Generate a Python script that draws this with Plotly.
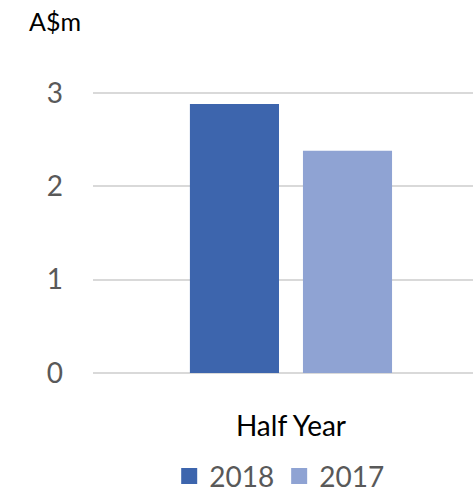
import plotly.graph_objects as go

categories = ["Half Year"]
series_names = ["2018", "2017"]
values_2018 = [2.88]
values_2017 = [2.38]
colors = ["#3D65AD", "#8FA3D3"]
y_ticks = [0, 1, 2, 3]

fig = go.Figure()
for name, vals, col in zip(series_names, [values_2018, values_2017], colors):
    fig.add_trace(go.Bar(x=categories, y=vals, name=name, marker_color=col,
                         marker_line_width=0, showlegend=False, legendgroup=name))
for name, col in zip(series_names, colors):
    fig.add_trace(go.Scatter(x=[None], y=[None], mode="markers", name=name,
                             legendgroup=name,
                             marker=dict(symbol="square", size=20, color=col)))

fig.update_layout(
    width=473, height=491,
    margin=dict(l=93, r=0, t=90, b=118, autoexpand=False),
    paper_bgcolor="white", plot_bgcolor="white",
    barmode="group", bargap=0.405, bargroupgap=0.212,
    font=dict(family="Lato, Open Sans, sans-serif", color="#595959"),
    showlegend=True,
    legend=dict(orientation="h", x=0.49, xanchor="center", y=0.03, yanchor="middle",
                yref="container", itemwidth=30, itemsizing="trace",
                font=dict(size=28, color="#595959"),
                traceorder="normal"),
    xaxis=dict(range=[-0.521, 0.479], showgrid=False, showline=False, ticks="",
               tickfont=dict(size=28, color="#000000"), ticklabelstandoff=34),
    yaxis=dict(range=[0, 3.03], tickvals=y_ticks, showgrid=True, gridcolor="#D9D9D9",
               gridwidth=1.5, zeroline=True, zerolinecolor="#D9D9D9", zerolinewidth=1.5,
               showline=False, ticks="", tickfont=dict(size=28, color="#595959"),
               ticklabelstandoff=29),
    annotations=[dict(text="A$m", xref="paper", yref="paper", x=-0.174, y=1.0,
                      xanchor="left", yanchor="bottom", yshift=52, showarrow=False,
                      font=dict(size=25, color="#000000"))],
)

fig.write_html("out.html")
